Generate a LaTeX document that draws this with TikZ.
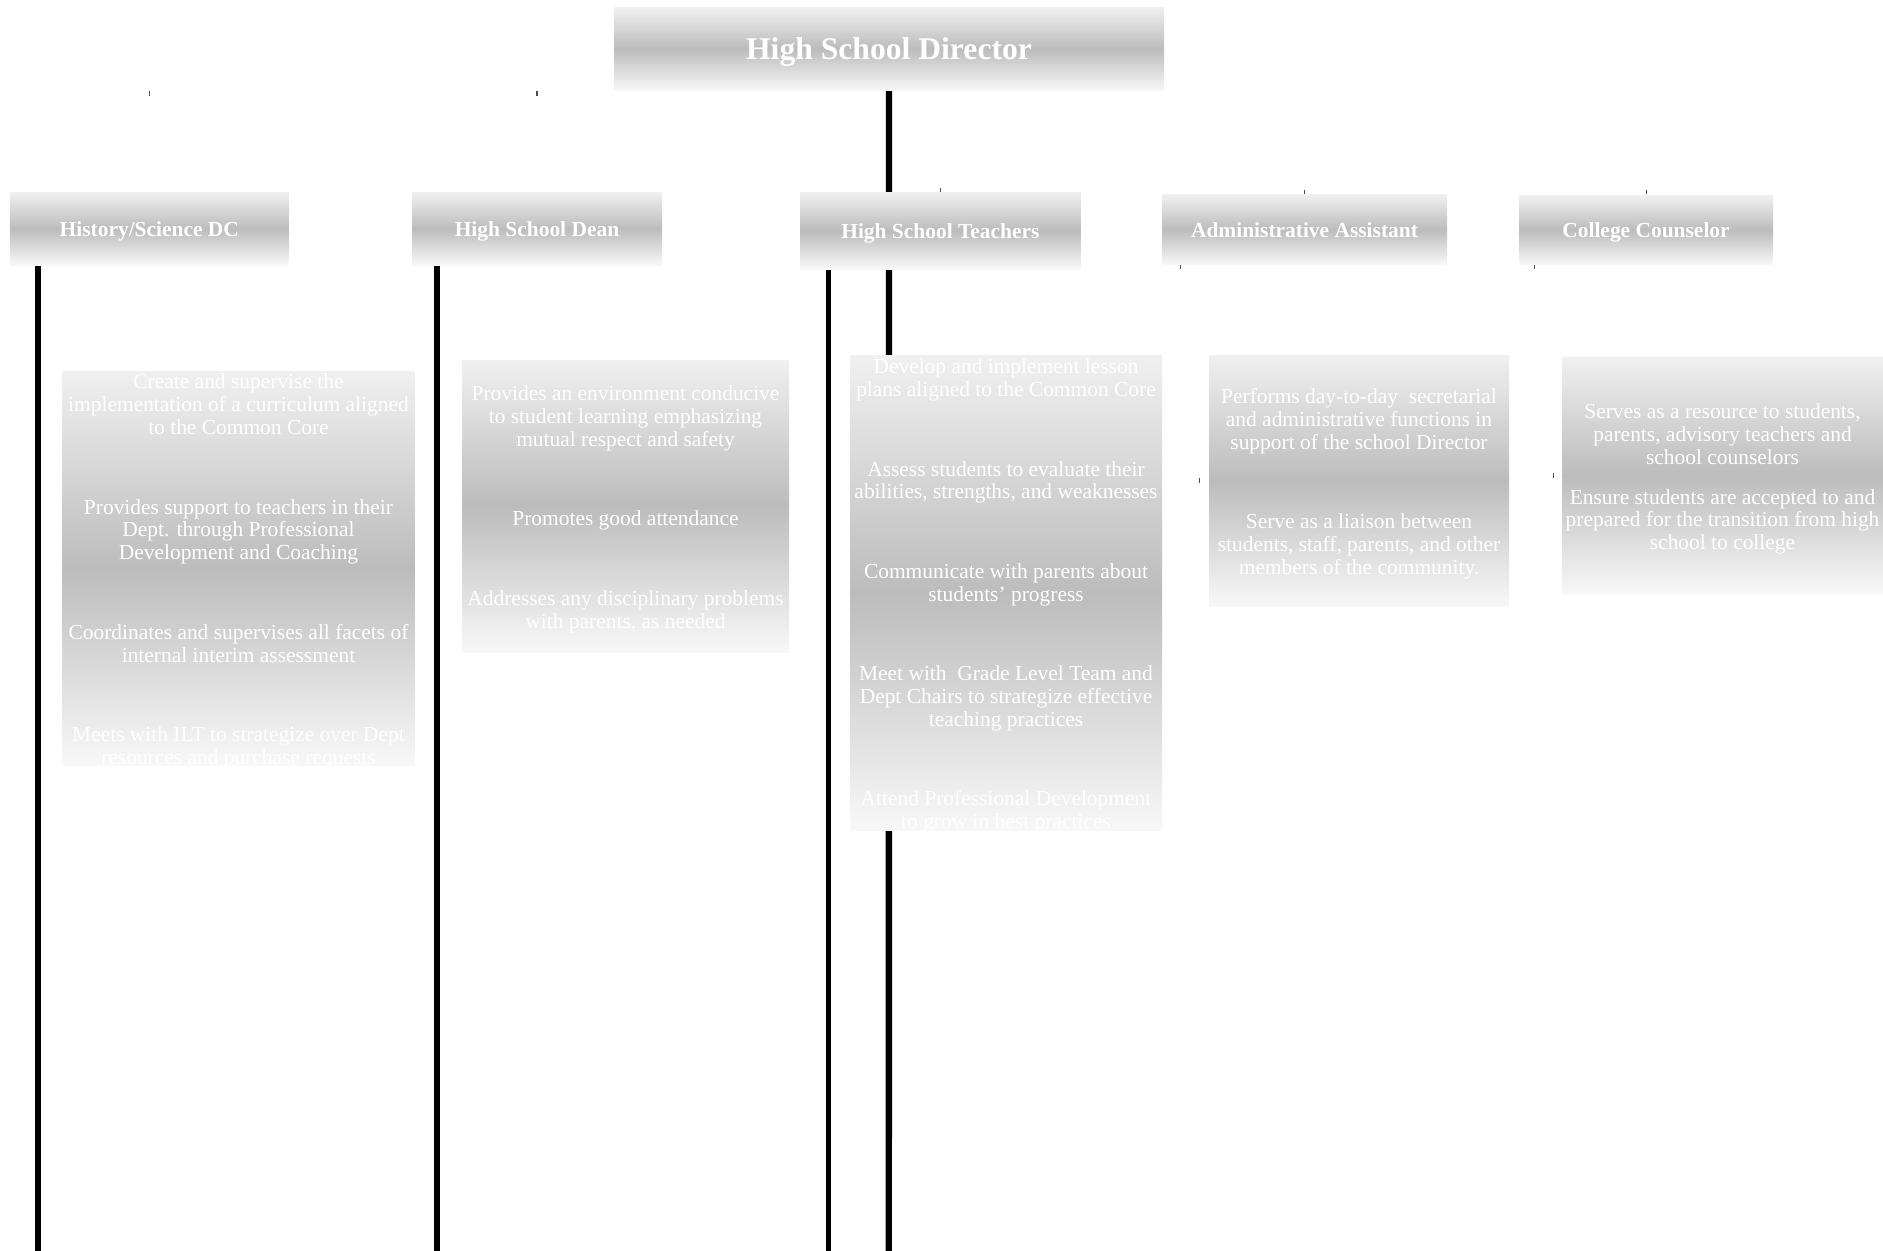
\documentclass[tikz,border=0pt]{standalone}
\usepackage{fontspec}
\setmainfont{Liberation Serif}
\definecolor{shadetop}{RGB}{240, 240, 240}
\definecolor{shademid}{RGB}{188, 188, 188}
\definecolor{shadebot}{RGB}{248, 248, 248}
\usetikzlibrary{positioning, calc, backgrounds}

\tikzset{
  rolebox/.style={top color=shadetop, bottom color=shadebot, middle color=shademid, text=white, inner sep=0pt, align=center, text height=4.3pt, text depth=0pt, font={\fontsize{6.1}{6.5}\selectfont\bfseries}},
  dutybox/.style={top color=shadetop, bottom color=shadebot, middle color=shademid, inner sep=0pt},
  dutytext/.style={text=white, inner sep=0pt, align=center, yshift=-0.03cm, font={\fontsize{6.1}{6.5}\selectfont}},
  spine/.style={line width=1.6pt, black},
  stubline/.style={line width=0.3pt, black!70}
}

\begin{document}
\begin{tikzpicture}
  \useasboundingbox (0,0) rectangle (18.83,-12.51);

  % Director
  \node[rolebox, minimum width=5.5cm, minimum height=0.835cm, text height=6.3pt, font={\fontsize{9}{10}\selectfont\bfseries}] (director) at (8.89,-0.488) {High School Director};

  % Second row
  \node[rolebox, minimum width=2.79cm, minimum height=0.727cm] (dc) at (1.493,-2.287) {History/Science DC};
  \node[rolebox, minimum width=2.5cm, minimum height=0.727cm] (dean) at (5.37,-2.287) {High School Dean};
  \node[rolebox, minimum width=2.808cm, minimum height=0.77cm] (teachers) at (9.404,-2.308) {High School Teachers};
  \node[rolebox, minimum width=2.85cm, minimum height=0.704cm] (admin) at (13.045,-2.295) {Administrative Assistant};
  \node[rolebox, minimum width=2.54cm, minimum height=0.697cm] (counselor) at (16.46,-2.299) {College Counselor};

  % Duty boxes
  \node[dutybox, minimum width=3.516cm, minimum height=3.93cm] (dcduty) at (2.385,-5.685) {};
  \node[dutytext] (dctext) at (dcduty) {
    Create and supervise the\\
    implementation of a curriculum aligned\\
    to the Common Core\\[16.1pt]
    Provides support to teachers in their\\
    Dept. through Professional\\
    Development and Coaching\\[16.1pt]
    Coordinates and supervises all facets of\\
    internal interim assessment\\[16.1pt]
    Meets with ILT to strategize over Dept\\
    resources and purchase requests
  };

  \node[dutybox, minimum width=3.27cm, minimum height=2.92cm] (deanduty) at (6.255,-5.062) {};
  \node[dutytext] (deantext) at (deanduty) {
    Provides an environment conducive\\
    to student learning emphasizing\\
    mutual respect and safety\\[16.1pt]
    Promotes good attendance\\[16.1pt]
    Addresses any disciplinary problems\\
    with parents, as needed
  };

  \node[dutybox, minimum width=3.12cm, minimum height=4.745cm] (teachduty) at (10.06,-5.93) {};
  \node[dutytext] (teachtext) at (teachduty) {
    Develop and implement lesson\\
    plans aligned to the Common Core\\[16.1pt]
    Assess students to evaluate their\\
    abilities, strengths, and weaknesses\\[16.1pt]
    Communicate with parents about\\
    students’ progress\\[16.1pt]
    Meet with \ Grade Level Team and\\
    Dept Chairs to strategize effective\\
    teaching practices\\[16.1pt]
    Attend Professional Development\\
    to grow in best practices
  };

  \node[dutybox, minimum width=3cm, minimum height=2.505cm] (adminduty) at (13.59,-4.81) {};
  \node[dutytext] (admintext) at (adminduty) {
    Performs day-to-day \ secretarial\\
    and administrative functions in\\
    support of the school Director\\[16.1pt]
    Serve as a liaison between\\
    students, staff, parents, and other\\
    members of the community.
  };

  \node[dutybox, minimum width=3.21cm, minimum height=2.36cm] (counselduty) at (17.225,-4.76) {};
  \node[dutytext] (counseltext) at (counselduty) {
    Serves as a resource to students,\\
    parents, advisory teachers and\\
    school counselors\\[4.9pt]
    Ensure students are accepted to and\\
    prepared for the transition from high\\
    school to college
  };

  % Spines
  \coordinate (dcfoot) at (0.38,-12.51);
  \coordinate (deanfoot) at (4.37,-12.51);
  \coordinate (teachfoot) at (8.286,-12.51);
  \coordinate (directorfoot) at (8.888,-12.51);
  \begin{scope}[on background layer]
    \fill[white] (0,0) rectangle (18.83,-12.51);
    \draw[spine, line width=1.8pt] (director.south) -- (directorfoot);
    \draw[spine] (dcfoot |- dc.south) -- (dcfoot);
    \draw[spine] (deanfoot |- dean.south) -- (deanfoot);
    \draw[spine] (teachfoot |- teachers.south) -- (teachfoot);
  \end{scope}

  % Stubs
  \draw[stubline] (dc.north |- director.south) -- ++(0,-0.05);
  \draw[stubline] (dean.north |- director.south) -- ++(0,-0.05);
  \draw[stubline] (teachers.north) -- ++(0,0.04);
  \draw[stubline] (admin.north) -- ++(0,0.04);
  \draw[stubline] (counselor.north) -- ++(0,0.04);
  \draw[stubline] ([xshift=0.19cm]admin.south west) -- ++(0,-0.04);
  \draw[stubline] ([xshift=0.16cm]counselor.south west) -- ++(0,-0.04);
  \draw[stubline] ([xshift=-0.085cm, yshift=0.025cm]adminduty.west) -- ++(0,-0.05);
  \draw[stubline] ([xshift=-0.076cm, yshift=0.025cm]counselduty.west) -- ++(0,-0.05);
\end{tikzpicture}
\end{document}
